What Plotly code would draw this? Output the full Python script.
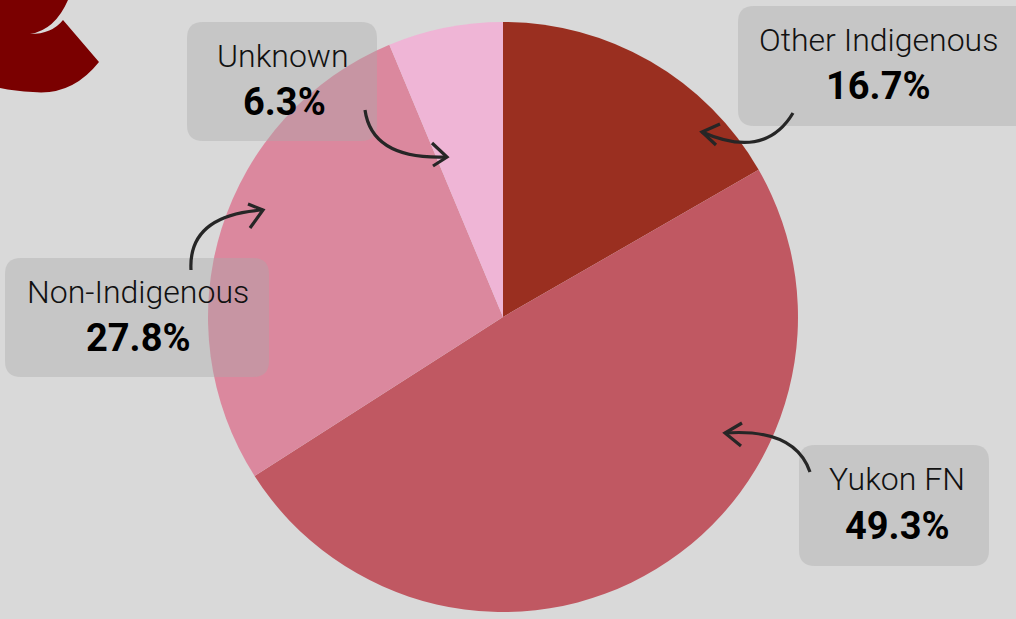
import plotly.graph_objects as go

W, H = 1016, 619

# data
groups = ["Other Indigenous", "Yukon FN", "Non-Indigenous", "Unknown"]
shares = [16.7, 49.3, 27.8, 6.3]
share_labels = ["16.7%", "49.3%", "27.8%", "6.3%"]
colors = ["#9a2f20", "#c05862", "#db889e", "#efb5d6"]


def px(x, y):
    # pixel -> paper coords
    return x / W, 1 - y / H


def path(cmds):
    # cmds: list of (letter, [x, y, x, y ...]) in pixels
    out = []
    for c, pts in cmds:
        s = c
        for i in range(0, len(pts), 2):
            xx, yy = px(pts[i], pts[i + 1])
            s += f" {xx:.5f},{yy:.5f}"
        out.append(s)
    return " ".join(out)


def rounded_box(x0, y0, x1, y1, r=16):
    return path([
        ("M", [x0 + r, y0]), ("L", [x1 - r, y0]), ("Q", [x1, y0, x1, y0 + r]),
        ("L", [x1, y1 - r]), ("Q", [x1, y1, x1 - r, y1]), ("L", [x0 + r, y1]),
        ("Q", [x0, y1, x0, y1 - r]), ("L", [x0, y0 + r]), ("Q", [x0, y0, x0 + r, y0]),
    ]) + " Z"


fig = go.Figure()

fig.add_trace(go.Pie(
    labels=groups,
    values=shares,
    sort=False,
    direction="clockwise",
    rotation=0,
    marker=dict(colors=colors, line=dict(width=0)),
    textinfo="none",
    hoverinfo="label+percent",
    showlegend=False,
    domain=dict(x=[208 / W, 798 / W], y=[1 - 612 / H, 1 - 22 / H]),
))

shapes = []

# decorative logo fragment, top-left corner
logo = path([
    ("M", [0, 0]), ("L", [68, 0]),
    ("Q", [55, 30, 30, 34]),
    ("Q", [52, 34, 63, 20]),
    ("L", [99, 62]),
    ("Q", [72, 96, 33, 92]),
    ("Q", [15, 91, 0, 88]),
]) + " Z"
shapes.append(dict(type="path", path=logo, xref="paper", yref="paper",
                   fillcolor="#7a0000", line=dict(width=0), layer="below"))

# label boxes
boxes = [(738, 6, 1030, 126), (799, 445, 989, 566), (5, 258, 269, 377), (187, 22, 377, 141)]
for b in boxes:
    shapes.append(dict(type="path", path=rounded_box(*b), xref="paper", yref="paper",
                       fillcolor="rgba(170,170,170,0.4)", line=dict(width=0), layer="above"))

# curved arrows: (start, control, tip, head1, head2)
arrows = [
    ((793, 113), (765, 160), (702, 132), (720, 124), (716, 145)),
    ((810, 472), (795, 428), (725, 433), (742, 423), (741, 446)),
    ((191, 270), (188, 215), (263, 210), (248, 204), (250, 228)),
    ((365, 110), (372, 160), (447, 157), (432, 143), (433, 166)),
]
for s, c, t, h1, h2 in arrows:
    shapes.append(dict(type="path", path=path([("M", [*s]), ("Q", [*c, *t])]),
                       xref="paper", yref="paper", line=dict(color="#262626", width=3.2),
                       layer="above"))
    shapes.append(dict(type="path", path=path([("M", [*h1]), ("L", [*t]), ("L", [*h2])]),
                       xref="paper", yref="paper", line=dict(color="#262626", width=3.2),
                       layer="above"))

# text positions (pixel centers): label line, value line
text_pos = [((878, 40), (878, 86)), ((897, 479), (897, 526)),
            ((138, 292), (138, 338)), ((283, 56), (284, 102))]

annotations = []
for g, v, (lp, vp) in zip(groups, share_labels, text_pos):
    lx, ly = px(*lp)
    vx, vy = px(*vp)
    annotations.append(dict(x=lx, y=ly, xref="paper", yref="paper", text=g, showarrow=False,
                            xanchor="center", yanchor="middle",
                            font=dict(family="Roboto", size=32, weight=300, color="#111111")))
    annotations.append(dict(x=vx, y=vy, xref="paper", yref="paper", text=f"<b>{v}</b>",
                            showarrow=False, xanchor="center", yanchor="middle",
                            font=dict(family="Roboto", size=38, color="#000000")))

fig.update_layout(
    width=W, height=H,
    margin=dict(l=0, r=0, t=0, b=0),
    paper_bgcolor="#d9d9d9",
    plot_bgcolor="#d9d9d9",
    shapes=shapes,
    annotations=annotations,
)

fig.write_html("out.html", config={"displayModeBar": False},
               post_script="document.body.style.margin='0';document.body.style.background='#d9d9d9';")
